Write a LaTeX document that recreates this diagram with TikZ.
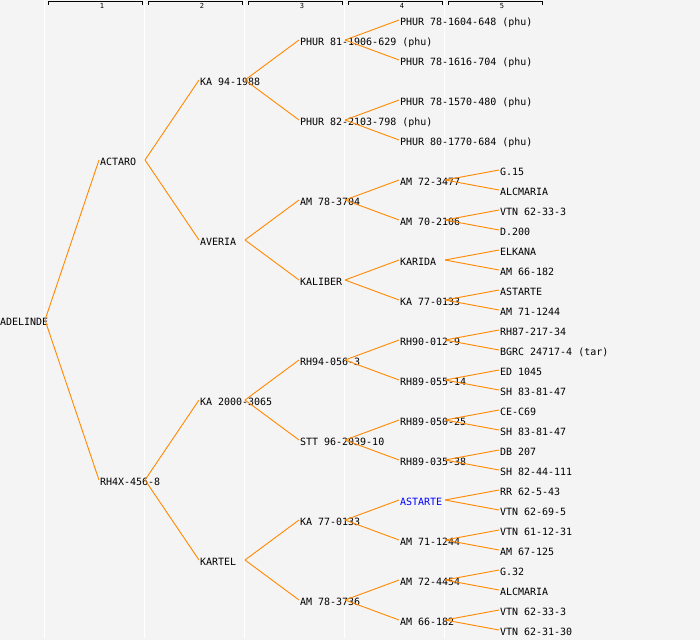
\documentclass[tikz,border=0pt]{standalone}
\usepackage{fontspec}
\newfontfamily\pedmono{DejaVu Sans Mono}
\definecolor{bgc}{HTML}{F4F4F4}
\definecolor{linkc}{RGB}{255,136,0}
\definecolor{bluec}{RGB}{0,0,255}
\tikzset{
  lbl/.style={anchor=base west, inner sep=0pt, outer sep=0pt, font=\pedmono\fontsize{10}{12}\selectfont, text=black},
  hdr/.style={anchor=base, inner sep=0pt, font=\pedmono\fontsize{7}{8}\selectfont},
  link/.style={draw=linkc, line width=0.9pt},
  colsep/.style={draw=white, line width=1pt},
  bracket/.style={draw=black, line width=0.9pt},
  hl/.style={text=bluec}
}
\newcommand{\pn}[5][]{%
  \coordinate (#2-in) at ({100*#3-1},#4);
  \coordinate (#2-out) at ({100*#3+45},#4);
  \node[lbl,#1] (#2) at ({100*#3},{#4+5.6}) {#5};
}
\begin{document}
\begin{tikzpicture}[x=1pt,y=-1pt]
\useasboundingbox (0,0) rectangle (700,640);
\fill[bgc] (0,0) rectangle (700,640);
\foreach \k in {0,...,4} {
  \draw[colsep] ({100*\k+44.5},0) -- ({100*\k+44.5},638);
}
\foreach \k in {1,...,5} {
  \draw[bracket] ({100*\k-52},4.5) -- ({100*\k-52},1.5) -- ({100*\k+42.5},1.5) -- ({100*\k+42.5},4.5);
  \node[hdr] (h\k) at ({100*\k+2},8.3) {\k};
}
% generation 0
\pn{a}{0}{320}{ADELINDE}
% generation 1
\pn{b1}{1}{160}{ACTARO}
\pn{b2}{1}{480}{RH4X-456-8}
% generation 2
\pn{c1}{2}{80}{KA 94-1988}
\pn{c2}{2}{240}{AVERIA}
\pn{c3}{2}{400}{KA 2000-3065}
\pn{c4}{2}{560}{KARTEL}
% generation 3
\pn{d1}{3}{40}{PHUR 81-1906-629 (phu)}
\pn{d2}{3}{120}{PHUR 82-2103-798 (phu)}
\pn{d3}{3}{200}{AM 78-3704}
\pn{d4}{3}{280}{KALIBER}
\pn{d5}{3}{360}{RH94-056-3}
\pn{d6}{3}{440}{STT 96-2039-10}
\pn{d7}{3}{520}{KA 77-0133}
\pn{d8}{3}{600}{AM 78-3736}
% generation 4
\pn{e1}{4}{20}{PHUR 78-1604-648 (phu)}
\pn{e2}{4}{60}{PHUR 78-1616-704 (phu)}
\pn{e3}{4}{100}{PHUR 78-1570-480 (phu)}
\pn{e4}{4}{140}{PHUR 80-1770-684 (phu)}
\pn{e5}{4}{180}{AM 72-3477}
\pn{e6}{4}{220}{AM 70-2106}
\pn{e7}{4}{260}{KARIDA}
\pn{e8}{4}{300}{KA 77-0133}
\pn{e9}{4}{340}{RH90-012-9}
\pn{e10}{4}{380}{RH89-055-14}
\pn{e11}{4}{420}{RH89-050-25}
\pn{e12}{4}{460}{RH89-035-38}
\pn[hl]{e13}{4}{500}{ASTARTE}
\pn{e14}{4}{540}{AM 71-1244}
\pn{e15}{4}{580}{AM 72-4454}
\pn{e16}{4}{620}{AM 66-182}
% generation 5
\pn{f9}{5}{170}{G.15}
\pn{f10}{5}{190}{ALCMARIA}
\pn{f11}{5}{210}{VTN 62-33-3}
\pn{f12}{5}{230}{D.200}
\pn{f13}{5}{250}{ELKANA}
\pn{f14}{5}{270}{AM 66-182}
\pn{f15}{5}{290}{ASTARTE}
\pn{f16}{5}{310}{AM 71-1244}
\pn{f17}{5}{330}{RH87-217-34}
\pn{f18}{5}{350}{BGRC 24717-4 (tar)}
\pn{f19}{5}{370}{ED 1045}
\pn{f20}{5}{390}{SH 83-81-47}
\pn{f21}{5}{410}{CE-C69}
\pn{f22}{5}{430}{SH 83-81-47}
\pn{f23}{5}{450}{DB 207}
\pn{f24}{5}{470}{SH 82-44-111}
\pn{f25}{5}{490}{RR 62-5-43}
\pn{f26}{5}{510}{VTN 62-69-5}
\pn{f27}{5}{530}{VTN 61-12-31}
\pn{f28}{5}{550}{AM 67-125}
\pn{f29}{5}{570}{G.32}
\pn{f30}{5}{590}{ALCMARIA}
\pn{f31}{5}{610}{VTN 62-33-3}
\pn{f32}{5}{630}{VTN 62-31-30}
% connectors
\foreach \p/\c in {a/b1,a/b2,
  b1/c1,b1/c2,b2/c3,b2/c4,
  c1/d1,c1/d2,c2/d3,c2/d4,c3/d5,c3/d6,c4/d7,c4/d8,
  d1/e1,d1/e2,d2/e3,d2/e4,d3/e5,d3/e6,d4/e7,d4/e8,d5/e9,d5/e10,d6/e11,d6/e12,d7/e13,d7/e14,d8/e15,d8/e16,
  e5/f9,e5/f10,e6/f11,e6/f12,e7/f13,e7/f14,e8/f15,e8/f16,e9/f17,e9/f18,e10/f19,e10/f20,
  e11/f21,e11/f22,e12/f23,e12/f24,e13/f25,e13/f26,e14/f27,e14/f28,e15/f29,e15/f30,e16/f31,e16/f32} {
  \draw[link] (\p-out) -- (\c-in);
}
\end{tikzpicture}
\end{document}
